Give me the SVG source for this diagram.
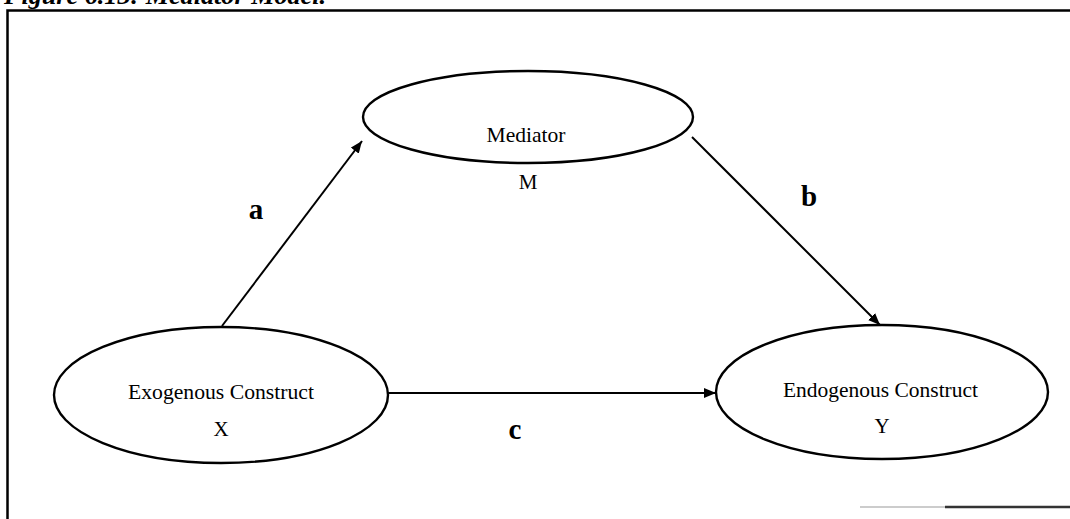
<svg xmlns="http://www.w3.org/2000/svg" width="1070" height="519" viewBox="0 0 1070 519">
<style>
.node{fill:#fff;stroke:#000;stroke-width:2.4}
.t{font-family:"Liberation Serif","Times New Roman",serif;font-size:21px;fill:#000;text-anchor:middle}
.lbl{font-family:"Liberation Serif","Times New Roman",serif;font-size:29px;font-weight:bold;fill:#000;text-anchor:middle}
.edge{stroke:#000;stroke-width:2;fill:none;marker-end:url(#ah)}
.frame{stroke:#000;stroke-width:2.5;fill:none}
</style>
<defs>
<marker id="ah" viewBox="0 0 12 10" refX="12" refY="5" markerWidth="12" markerHeight="10" markerUnits="userSpaceOnUse" orient="auto">
<path d="M0,0 L12,5 L0,10 z" fill="#000"/>
</marker>
</defs>
<text x="4" y="4" font-family="'Liberation Serif','Times New Roman',serif" font-size="26" font-weight="bold" font-style="italic" textLength="322" lengthAdjust="spacingAndGlyphs">Figure 6.13: Mediator Model.</text>
<g id="frame">
<path class="frame" d="M7.5,519 L7.5,10.5 L1070,10.5"/>
<path d="M860,507 L945,507" stroke="#ccc" stroke-width="2"/>
<path d="M945,507 L1070,507" stroke="#333" stroke-width="2.5"/>
</g>
<g id="connectors">
<line class="edge" x1="222" y1="326" x2="362" y2="141"/>
<line class="edge" x1="692" y1="137" x2="880" y2="325"/>
<line class="edge" x1="388" y1="393" x2="716" y2="393"/>
</g>
<g id="mediator">
<ellipse class="node" cx="528" cy="117" rx="165" ry="46"/>
<text class="t" x="526" y="142" textLength="79" lengthAdjust="spacingAndGlyphs">Mediator</text>
<text class="t" x="528" y="189">M</text>
</g>
<g id="exogenous">
<ellipse class="node" cx="221" cy="395" rx="167" ry="68"/>
<text class="t" x="221" y="399" textLength="186" lengthAdjust="spacingAndGlyphs">Exogenous Construct</text>
<text class="t" x="221" y="436">X</text>
</g>
<g id="endogenous">
<ellipse class="node" cx="882" cy="392" rx="166" ry="67"/>
<text class="t" x="880.5" y="397" textLength="195" lengthAdjust="spacingAndGlyphs">Endogenous Construct</text>
<text class="t" x="882" y="433">Y</text>
</g>
<g id="labels">
<text class="lbl" x="256" y="219">a</text>
<text class="lbl" x="809" y="206">b</text>
<text class="lbl" x="515" y="439">c</text>
</g>
</svg>
